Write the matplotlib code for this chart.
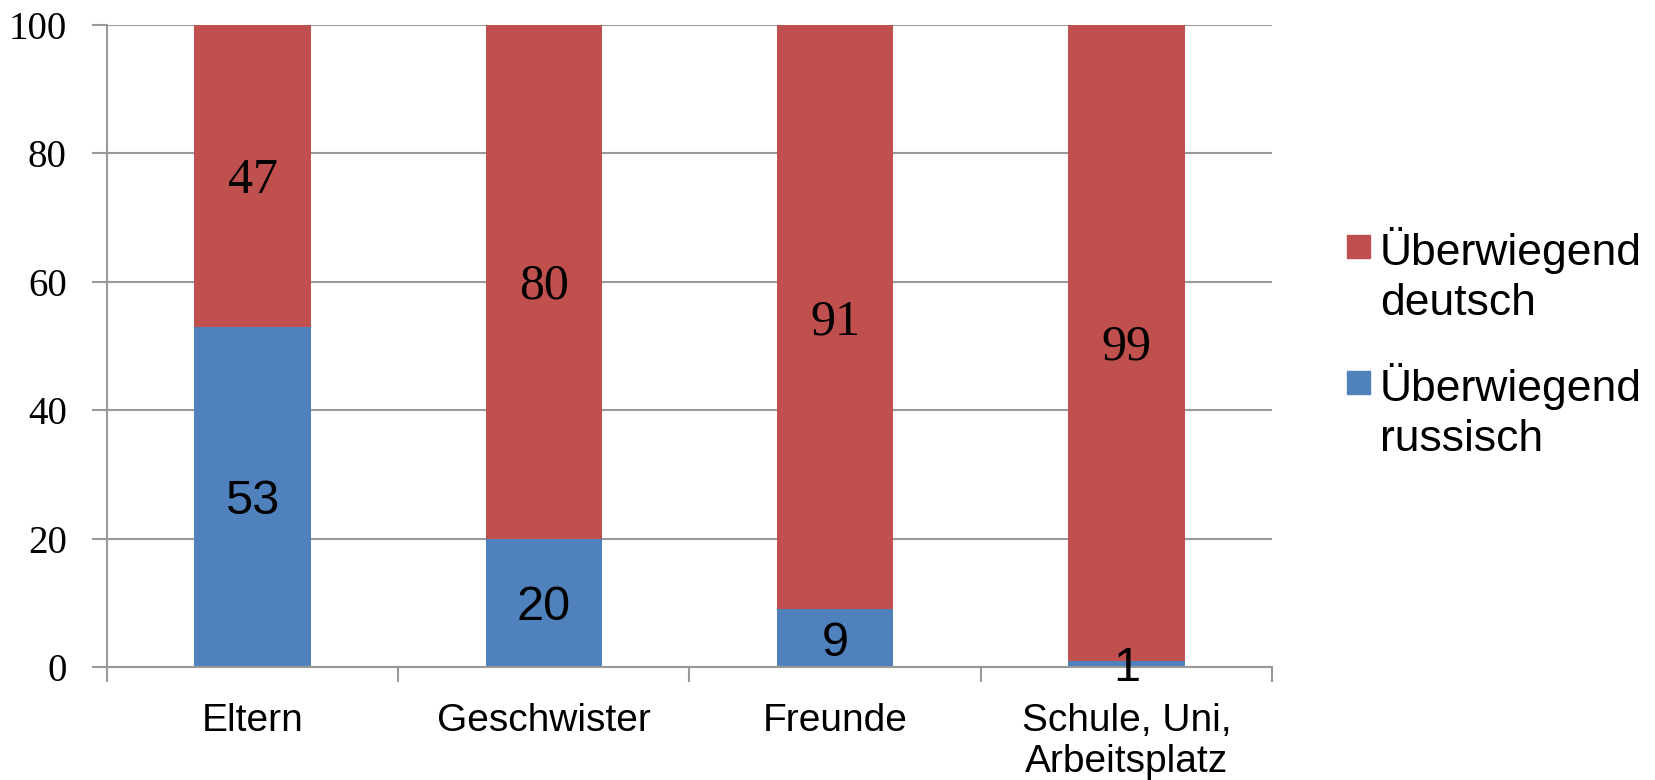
import matplotlib
matplotlib.use("Agg")
import matplotlib.pyplot as plt
from matplotlib.patches import Rectangle
import numpy as np

# data
categories = ["Eltern", "Geschwister", "Freunde", "Schule, Uni,\nArbeitsplatz"]
russisch = [53, 20, 9, 1]
deutsch = [47, 80, 91, 99]
series_labels = ["Überwiegend\ndeutsch", "Überwiegend\nrussisch"]

red = "#C0504D"
blue = "#4F81BD"
grey = "#999999"
sans = "Liberation Sans"
serif = "Liberation Serif"

W, H = 1656, 780
fig = plt.figure(figsize=(W / 100, H / 100), dpi=100)
fig.patch.set_facecolor("white")
ax = fig.add_axes([107 / W, 1 - 667 / H, (1272 - 107) / W, (667 - 25) / H])

x = np.arange(len(categories))
width = 0.4
ax.bar(x, russisch, width, color=blue, zorder=2)
ax.bar(x, deutsch, width, bottom=russisch, color=red, zorder=2)

# value labels, digits centred on each segment
def seg_label(xc, yc, txt, fs, fam, digit_h):
    ax.annotate(txt, xy=(xc, yc), xytext=(0, -digit_h * fs / 2),
                textcoords="offset points", ha="center", va="baseline",
                fontsize=fs, family=fam, zorder=3, annotation_clip=False)

for i in range(len(categories)):
    seg_label(x[i], russisch[i] / 2, str(russisch[i]), 35, sans, 0.716)
    seg_label(x[i], russisch[i] + deutsch[i] / 2, str(deutsch[i]), 36, serif, 0.676)

ax.set_xlim(-0.5, len(categories) - 0.5)
ax.set_ylim(0, 100)
ax.set_yticks(range(0, 101, 20))
ax.yaxis.grid(True, color=grey, linewidth=1.5)
ax.set_axisbelow(True)

ax.set_xticks(x)
ax.set_xticklabels(categories, fontsize=28, family=sans, linespacing=1.18)
ax.set_xticks(np.arange(-0.5, len(categories), 1.0), minor=True)
ax.tick_params(axis="x", which="major", length=0, pad=26)
ax.tick_params(axis="x", which="minor", length=11, width=1.5, color=grey)
ax.tick_params(axis="y", length=11, width=1.5, color=grey, pad=18)
for lab in ax.get_yticklabels():
    lab.set_family(serif)
    lab.set_fontsize(28)

for s in ["top", "right"]:
    ax.spines[s].set_visible(False)
for s in ["left", "bottom"]:
    ax.spines[s].set_color(grey)
    ax.spines[s].set_linewidth(1.5)

# legend drawn by hand so the square sits on the first text line
leg_colors = [red, blue]
leg_base = [265, 401]
for c, lab, base in zip(leg_colors, series_labels, leg_base):
    fig.add_artist(Rectangle((1347 / W, 1 - (base - 7) / H), 23 / W, 23 / H,
                             transform=fig.transFigure, color=c))
    for k, line in enumerate(lab.split("\n")):
        fig.text(1380 / W, 1 - (base + 50 * k) / H, line, fontsize=32,
                 family=sans, ha="left", va="baseline")

fig.savefig("out.png", dpi=100)
